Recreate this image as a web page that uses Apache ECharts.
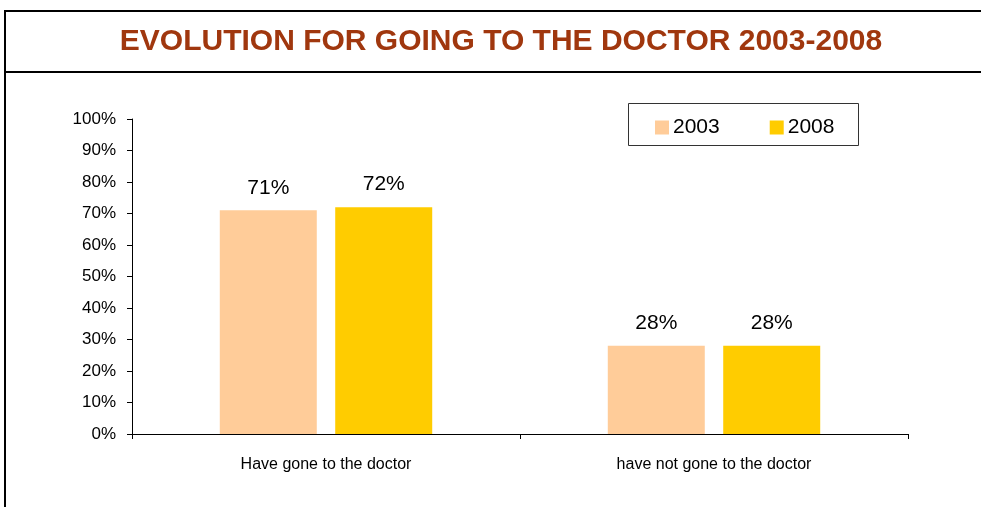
<!DOCTYPE html>
<html>
<head>
<meta charset="utf-8">
<script src="https://cdn.jsdelivr.net/npm/echarts@6/dist/echarts.min.js"></script>
<style>
  html, body { margin: 0; padding: 0; background: #fff; }
  #chart { width: 981px; height: 507px; }
</style>
</head>
<body>
<div id="chart"></div>
<script>
// Share of respondents, by year
const categories = ['Have gone to the doctor', 'have not gone to the doctor'];
const values2003 = [71, 28];
const values2008 = [72, 28];
const seriesNames = ['2003', '2008'];
const yTicks = [0, 10, 20, 30, 40, 50, 60, 70, 80, 90, 100];

const chart = echarts.init(document.getElementById('chart'), null, { renderer: 'canvas' });

const labelStyle = {
  show: true,
  position: 'top',
  distance: 12,
  formatter: p => p.value + '%',
  color: '#000',
  fontFamily: 'Liberation Sans, Arial, sans-serif',
  fontSize: 21
};

chart.setOption({
  animation: false,
  backgroundColor: '#fff',
  graphic: [
    // frame around the page and the heading band
    { type: 'line', shape: { x1: 5, y1: 11, x2: 981, y2: 11 }, style: { stroke: '#000', lineWidth: 2 } },
    { type: 'line', shape: { x1: 5, y1: 10, x2: 5, y2: 507 }, style: { stroke: '#000', lineWidth: 2 } },
    { type: 'line', shape: { x1: 5, y1: 72, x2: 981, y2: 72 }, style: { stroke: '#000', lineWidth: 2 } },
    {
      type: 'text',
      x: 501, y: 42,
      style: {
        text: 'EVOLUTION FOR GOING TO THE DOCTOR 2003-2008',
        fill: '#A0370E',
        font: 'bold 30px "Liberation Sans Narrow", "Arial Narrow", "Liberation Sans", sans-serif',
        textAlign: 'center',
        textVerticalAlign: 'middle'
      }
    },
    // legend frame
    { type: 'rect', shape: { x: 628.5, y: 103.5, width: 230, height: 42 }, style: { fill: 'none', stroke: '#333', lineWidth: 1 } }
  ],
  legend: {
    data: seriesNames,
    left: 650,
    top: 112,
    itemWidth: 14,
    itemHeight: 14,
    itemGap: 50,
    icon: 'rect',
    textStyle: { color: '#000', fontFamily: 'Liberation Sans, Arial, sans-serif', fontSize: 21, padding: [0, 0, 0, -1] }
  },
  grid: { left: 132, right: 73, top: 119, bottom: 73 },
  xAxis: {
    type: 'category',
    data: categories,
    axisLine: { lineStyle: { color: '#000', width: 1 } },
    axisTick: { show: true, interval: 0, length: 5, lineStyle: { color: '#000' } },
    axisLabel: {
      margin: 23,
      color: '#000',
      fontFamily: '"Liberation Sans Narrow", "Arial Narrow", "Liberation Sans", sans-serif',
      fontSize: 16
    }
  },
  yAxis: {
    type: 'value',
    min: yTicks[0],
    max: yTicks[yTicks.length - 1],
    interval: 10,
    splitLine: { show: false },
    axisLine: { show: true, lineStyle: { color: '#000', width: 1 } },
    axisTick: { show: true, length: 5, lineStyle: { color: '#000' } },
    axisLabel: {
      margin: 16,
      color: '#000',
      fontFamily: '"Liberation Sans Narrow", "Arial Narrow", "Liberation Sans", sans-serif',
      fontSize: 17,
      formatter: v => v + '%'
    }
  },
  series: [
    {
      name: seriesNames[0],
      type: 'bar',
      data: values2003,
      barWidth: '25%',
      barGap: '19%',
      itemStyle: { color: '#FFCC99' },
      label: labelStyle
    },
    {
      name: seriesNames[1],
      type: 'bar',
      data: values2008,
      barWidth: '25%',
      itemStyle: { color: '#FFCC00' },
      label: labelStyle
    }
  ]
});
</script>
</body>
</html>
